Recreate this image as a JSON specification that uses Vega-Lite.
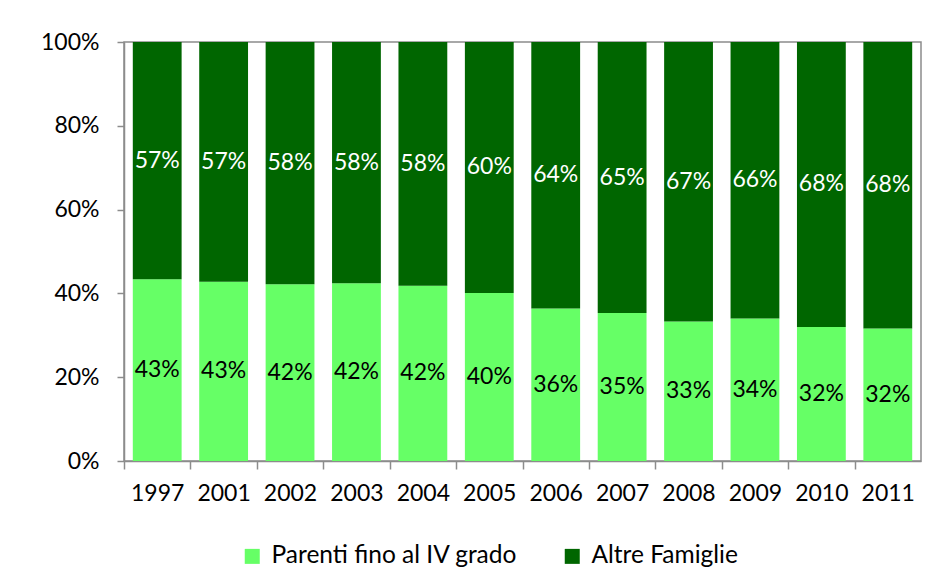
{
  "$schema": "https://vega.github.io/schema/vega-lite/v6.json",
  "width": 797,
  "height": 419,
  "autosize": "none",
  "padding": {"left": 124, "top": 42, "right": 15, "bottom": 120},
  "background": "white",
  "config": {
    "font": "Lato",
    "view": {"stroke": "#8c8c8c", "strokeWidth": 1.5},
    "axis": {"labelFont": "Lato", "labelFontSize": 23, "labelColor": "black", "domainColor": "#8c8c8c", "tickColor": "#8c8c8c", "grid": false, "title": null, "domainWidth": 1.5, "tickWidth": 1.5},
    "legend": {"labelFont": "Lato", "labelFontSize": 24.5, "labelColor": "black", "labelLimit": 400}
  },
  "data": {
    "values": [
      {"year": "1997", "series": "Parenti fino al IV grado", "value": 43.4},
      {"year": "1997", "series": "Altre Famiglie", "value": 56.6},
      {"year": "2001", "series": "Parenti fino al IV grado", "value": 42.8},
      {"year": "2001", "series": "Altre Famiglie", "value": 57.2},
      {"year": "2002", "series": "Parenti fino al IV grado", "value": 42.2},
      {"year": "2002", "series": "Altre Famiglie", "value": 57.8},
      {"year": "2003", "series": "Parenti fino al IV grado", "value": 42.4},
      {"year": "2003", "series": "Altre Famiglie", "value": 57.6},
      {"year": "2004", "series": "Parenti fino al IV grado", "value": 41.8},
      {"year": "2004", "series": "Altre Famiglie", "value": 58.2},
      {"year": "2005", "series": "Parenti fino al IV grado", "value": 40.1},
      {"year": "2005", "series": "Altre Famiglie", "value": 59.9},
      {"year": "2006", "series": "Parenti fino al IV grado", "value": 36.4},
      {"year": "2006", "series": "Altre Famiglie", "value": 63.6},
      {"year": "2007", "series": "Parenti fino al IV grado", "value": 35.3},
      {"year": "2007", "series": "Altre Famiglie", "value": 64.7},
      {"year": "2008", "series": "Parenti fino al IV grado", "value": 33.3},
      {"year": "2008", "series": "Altre Famiglie", "value": 66.7},
      {"year": "2009", "series": "Parenti fino al IV grado", "value": 34.0},
      {"year": "2009", "series": "Altre Famiglie", "value": 66.0},
      {"year": "2010", "series": "Parenti fino al IV grado", "value": 32.0},
      {"year": "2010", "series": "Altre Famiglie", "value": 68.0},
      {"year": "2011", "series": "Parenti fino al IV grado", "value": 31.6},
      {"year": "2011", "series": "Altre Famiglie", "value": 68.4}
    ]
  },
  "transform": [
    {"stack": "value", "groupby": ["year"], "sort": [{"field": "series", "order": "descending"}], "offset": "normalize", "as": ["y0", "y1"]},
    {"calculate": "(datum.y0 + datum.y1) / 2", "as": "mid"},
    {"calculate": "datum.y1 - datum.y0", "as": "share"}
  ],
  "encoding": {
    "x": {
      "field": "year", "type": "nominal", "sort": null,
      "scale": {"paddingInner": 0.265, "paddingOuter": 0.1325},
      "axis": {"labelAngle": 0, "tickOffset": -33.2, "labelOffset": 33.2, "tickSize": 8, "labelPadding": 13}
    }
  },
  "layer": [
    {
      "mark": {"type": "bar"},
      "encoding": {
        "y": {"field": "y0", "type": "quantitative", "scale": {"domain": [0, 1], "nice": false},
              "axis": {"format": ".0%", "values": [0, 0.2, 0.4, 0.6, 0.8, 1], "tickSize": 7, "labelPadding": 18}},
        "y2": {"field": "y1"},
        "color": {"field": "series", "type": "nominal",
                  "scale": {"domain": ["Parenti fino al IV grado", "Altre Famiglie"], "range": ["#66ff66", "#006600"]},
                  "legend": {"title": null, "orient": "none", "direction": "horizontal", "legendX": 116, "legendY": 502,
                             "symbolType": "square", "symbolSize": 225, "symbolStrokeWidth": 0, "columnPadding": 42, "labelOffset": 7}}
      }
    },
    {
      "mark": {"type": "text", "fontSize": 23, "font": "Lato", "baseline": "middle"},
      "encoding": {
        "y": {"field": "mid", "type": "quantitative"},
        "text": {"field": "share", "type": "quantitative", "format": ".0%"},
        "color": {"condition": {"test": "datum.series === 'Altre Famiglie'", "value": "white"}, "value": "black"}
      }
    }
  ]
}
